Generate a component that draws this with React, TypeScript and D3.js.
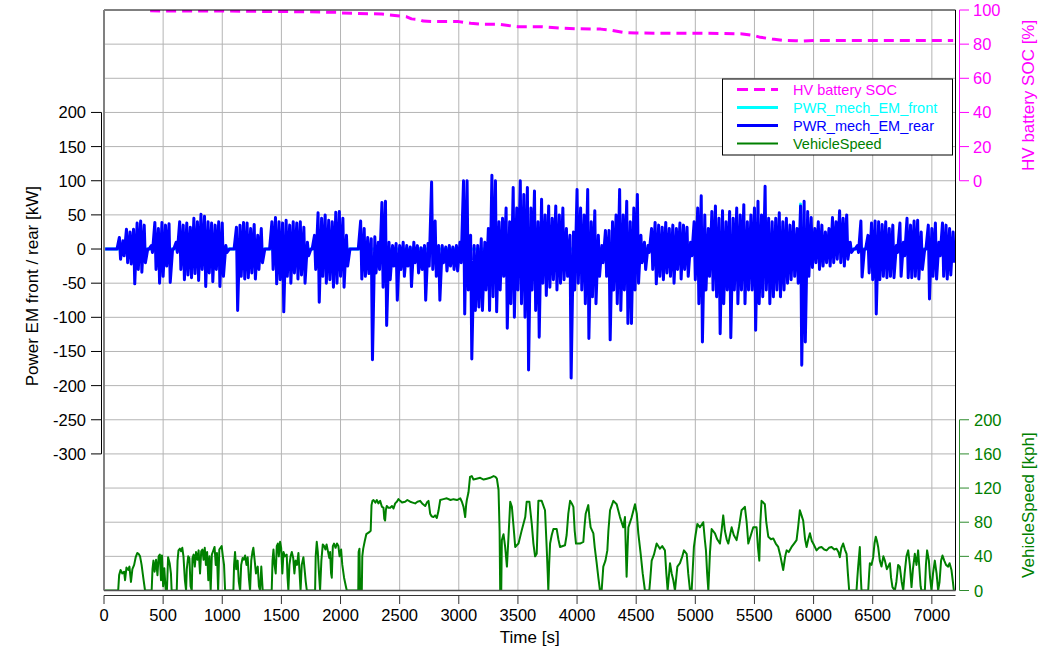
import React from 'react';
import * as d3 from 'd3';

const xTicks = [0, 500, 1000, 1500, 2000, 2500, 3000, 3500, 4000, 4500, 5000, 5500, 6000, 6500, 7000];
const powerTicks = [200, 150, 100, 50, 0, -50, -100, -150, -200, -250, -300];
const socTicks = [0, 20, 40, 60, 80, 100];
const speedTicks = [0, 40, 80, 120, 160, 200];

// HV battery SOC [%] : [time s, SOC]
const socPts: [number, number][] = [
  [390, 99.5], [1000, 99.4], [1300, 99.2], [1700, 99], [1980, 98.6], [2000, 98.2], [2150, 98], [2350, 97.6],
  [2500, 96.5], [2560, 96], [2600, 94.8], [2660, 94.5], [2700, 93.5], [2800, 93.2], [3000, 93.2], [3100, 92.2],
  [3200, 91.6], [3350, 91.6], [3450, 90.6], [3500, 90.2], [3700, 90.2], [3850, 89.5], [4000, 89], [4200, 88.8],
  [4300, 88], [4400, 86.8], [4500, 86.5], [4800, 86.4], [5200, 86.3], [5400, 86], [5500, 85], [5550, 84],
  [5650, 83], [5750, 82.2], [5850, 82], [5900, 81.8], [6000, 82.2], [7180, 82.2],
];

// PWR_mech_EM_rear [kW] : [bin start s, max, min] per 30 s
const rearBins: [number, number, number][] = [
  [0, 0, 0], [30, 0, 0], [60, 0, 0], [90, 0, 0], [120, 17, -15], [150, 12, -10], [180, 29, -20], [210, 25, -22],
  [240, 29, -51], [270, 38, -30], [300, 41, -34], [330, 35, -20], [360, 0, 0], [390, 5, -5], [420, 39, -30], [450, 30, -50],
  [480, 39, -40], [510, 35, -25], [540, 37, -49], [570, 0, 0], [600, 10, -5], [630, 40, -30], [660, 35, -45], [690, 38, -38],
  [720, 32, -42], [750, 45, -36], [780, 40, -46], [810, 51, -30], [840, 48, -55], [870, 40, -35], [900, 38, -48], [930, 35, -30],
  [960, 40, -55], [990, 38, -40], [1020, 5, -5], [1050, 0, 0], [1080, 0, 0], [1110, 32, -90], [1140, 35, -40], [1170, 39, -44],
  [1200, 38, -42], [1230, 30, -35], [1260, 36, -44], [1290, 20, -30], [1320, 30, -20], [1350, 0, 0], [1380, 0, 0], [1410, 40, -30],
  [1440, 46, -51], [1470, 40, -45], [1500, 38, -92], [1530, 42, -40], [1560, 35, -50], [1590, 40, -35], [1620, 38, -44], [1650, 40, -38],
  [1680, 32, -50], [1710, 10, -10], [1740, 0, 0], [1770, 20, -30], [1800, 53, -78], [1830, 45, -40], [1860, 50, -50], [1890, 42, -45],
  [1920, 40, -56], [1950, 54, -50], [1980, 55, -40], [2010, 45, -56], [2040, 20, -25], [2070, 0, 0], [2100, 0, 0], [2130, 0, 0],
  [2160, 41, -44], [2190, 30, -40], [2220, 17, -36], [2250, 15, -162], [2280, 18, -35], [2310, 10, -30], [2340, 68, -56], [2370, 70, -112],
  [2400, 10, -45], [2430, 5, -25], [2460, 8, -75], [2490, 5, -30], [2520, 10, -40], [2550, 5, -25], [2580, 3, -55], [2610, 10, -20],
  [2640, 5, -35], [2670, 2, -30], [2700, 5, -75], [2730, 8, -25], [2760, 98, -30], [2790, 41, -40], [2820, 5, -75], [2850, 5, -20],
  [2880, 3, -32], [2910, 5, -25], [2940, 3, -30], [2970, 5, -32], [3000, 10, -20], [3030, 100, -95], [3060, 100, -60], [3090, 20, -161],
  [3120, 5, -90], [3150, 5, -85], [3180, 15, -90], [3210, 10, -60], [3240, 30, -90], [3270, 108, -70], [3300, 100, -92], [3330, 40, -60],
  [3360, 45, -40], [3390, 60, -116], [3420, 40, -80], [3450, 90, -100], [3480, 60, -60], [3510, 100, -80], [3540, 80, -100], [3570, 90, -177],
  [3600, 60, -60], [3630, 85, -90], [3660, 40, -129], [3690, 73, -50], [3720, 50, -68], [3750, 63, -56], [3780, 45, -45], [3810, 63, -60],
  [3840, 50, -50], [3870, 60, -45], [3900, 30, -40], [3930, 20, -189], [3960, 25, -60], [3990, 87, -50], [4020, 60, -60], [4050, 50, -80],
  [4080, 87, -131], [4110, 40, -70], [4140, 56, -80], [4170, 20, -40], [4200, 5, -20], [4230, 27, -40], [4260, 27, -133], [4290, 40, -60],
  [4320, 50, -80], [4350, 87, -90], [4380, 50, -60], [4410, 70, -109], [4440, 40, -109], [4470, 60, -60], [4500, 80, -50], [4530, 20, -20],
  [4560, 10, -30], [4590, 5, -5], [4620, 30, -30], [4650, 39, -51], [4680, 35, -40], [4710, 32, -45], [4740, 39, -35], [4770, 30, -40],
  [4800, 35, -50], [4830, 30, -30], [4860, 38, -44], [4890, 35, -30], [4920, 32, -40], [4950, 10, -10], [4980, 40, -45], [5010, 60, -80],
  [5040, 78, -136], [5070, 50, -60], [5100, 30, -40], [5130, 55, -60], [5160, 63, -70], [5190, 45, -124], [5220, 56, -80], [5250, 40, -60],
  [5280, 55, -130], [5310, 45, -60], [5340, 60, -80], [5370, 50, -60], [5400, 65, -80], [5430, 40, -60], [5460, 50, -60], [5490, 60, -119],
  [5520, 70, -80], [5550, 50, -70], [5580, 92, -60], [5610, 45, -80], [5640, 40, -70], [5670, 45, -60], [5700, 53, -70], [5730, 40, -60],
  [5760, 45, -50], [5790, 35, -45], [5820, 40, -40], [5850, 30, -50], [5880, 63, -170], [5910, 70, -136], [5940, 55, -40], [5970, 46, -27],
  [6000, 30, -20], [6030, 40, -30], [6060, 35, -25], [6090, 25, -20], [6120, 30, -25], [6150, 46, -20], [6180, 40, -15], [6210, 56, -20],
  [6240, 45, -25], [6270, 50, -15], [6300, 10, -5], [6330, 0, 0], [6360, 5, -5], [6390, 41, -41], [6420, 0, 0], [6450, 20, -35],
  [6480, 38, -45], [6510, 41, -95], [6540, 40, -45], [6570, 36, -40], [6600, 40, -42], [6630, 30, -40], [6660, 35, -42], [6690, 5, -5],
  [6720, 38, -40], [6750, 10, -10], [6780, 45, -42], [6810, 35, -42], [6840, 41, -40], [6870, 42, -44], [6900, 25, -30], [6930, 0, 0],
  [6960, 35, -73], [6990, 30, -40], [7020, 38, -44], [7050, 10, -10], [7080, 38, -40], [7110, 35, -44], [7140, 30, -38], [7170, 25, -20],
];

// PWR_mech_EM_front [kW] : [time s, power]
const frontPts: [number, number][] = [
  [0, 0], [3168, 0], [3172, -32], [3180, -30], [3184, 0], [5886, 0], [5890, 66], [5896, 0], [7186, 0],
];

// VehicleSpeed [kph] : [time s, speed]
const speedPts: [number, number][] = [
  [0, 0], [120, 0], [128, 18], [140, 24], [155, 20], [170, 22], [178, 12], [190, 27], [205, 24], [215, 28], [228, 10], [240, 25], [255, 30], [268, 39], [282, 44], [292, 43], [305, 40], [318, 30], [332, 15], [347, 0],
  [403, 0], [410, 25], [418, 35], [428, 22], [440, 36], [452, 18], [462, 40], [472, 42], [482, 12], [490, 41], [500, 5], [510, 26], [522, 0], [532, 0], [542, 39], [555, 32], [566, 20], [572, 0],
  [615, 0], [622, 35], [630, 47], [642, 49], [652, 46], [662, 50], [672, 40], [684, 12], [694, 0], [700, 25], [712, 40], [722, 38], [732, 5], [742, 0], [748, 38], [758, 42], [768, 28], [778, 45], [790, 36], [800, 47], [812, 20], [822, 46], [832, 48], [842, 36], [852, 50], [862, 30], [872, 45], [882, 12], [892, 40], [902, 0], [912, 42], [922, 46], [935, 51], [945, 30], [955, 44], [965, 0], [975, 48], [985, 50], [995, 52], [1005, 40], [1015, 30], [1024, 0],
  [1094, 0], [1100, 30], [1108, 45], [1118, 25], [1130, 35], [1140, 10], [1151, 0], [1160, 30], [1172, 38], [1182, 36], [1193, 41], [1205, 30], [1215, 39], [1225, 15], [1235, 0], [1245, 35], [1255, 45], [1263, 50], [1272, 38], [1285, 20], [1300, 28], [1310, 5], [1320, 0], [1330, 28], [1342, 0],
  [1418, 0], [1425, 35], [1433, 48], [1442, 30], [1452, 20], [1461, 52], [1470, 55], [1478, 40], [1489, 57], [1498, 50], [1508, 20], [1518, 45], [1530, 40], [1545, 42], [1552, 15], [1559, 0], [1568, 30], [1578, 40], [1588, 45], [1600, 38], [1610, 20], [1620, 35], [1632, 30], [1644, 44], [1652, 25], [1662, 0], [1672, 30], [1686, 39], [1696, 25], [1706, 10], [1715, 0],
  [1785, 0], [1790, 40], [1799, 57], [1808, 45], [1818, 20], [1827, 0], [1838, 35], [1850, 54], [1862, 52], [1872, 48], [1882, 54], [1895, 45], [1905, 38], [1912, 45], [1920, 20], [1926, 15], [1935, 52], [1945, 55], [1958, 50], [1970, 55], [1982, 52], [1992, 40], [2005, 48], [2015, 30], [2030, 15], [2045, 5], [2053, 0],
  [2150, 0], [2153, 45], [2160, 49], [2166, 0], [2180, 0], [2184, 40], [2192, 49], [2205, 58], [2218, 66], [2240, 68], [2255, 70], [2262, 100], [2270, 105], [2279, 106], [2295, 103], [2307, 106], [2320, 102], [2335, 105], [2350, 98], [2363, 97], [2370, 84], [2377, 82], [2384, 95], [2391, 99], [2405, 97], [2420, 97], [2435, 99], [2448, 96], [2462, 102], [2476, 104], [2490, 107], [2504, 105], [2520, 103], [2546, 104], [2565, 106], [2589, 104], [2610, 103], [2631, 102], [2650, 104], [2673, 105], [2690, 102], [2716, 99], [2730, 103], [2744, 105], [2758, 90], [2770, 87], [2786, 86], [2800, 88], [2814, 85], [2828, 93], [2843, 106], [2870, 107], [2899, 108], [2930, 106], [2955, 107], [2985, 106], [3012, 108], [3026, 104], [3040, 98], [3054, 86], [3062, 100], [3068, 106], [3082, 115], [3095, 133], [3110, 134], [3124, 130], [3150, 131], [3181, 132], [3210, 130], [3237, 131], [3265, 132], [3294, 134], [3310, 133], [3322, 131], [3336, 118], [3345, 70], [3350, 0], [3359, 0],
  [3364, 59], [3378, 66], [3392, 51], [3407, 28], [3421, 65], [3435, 104], [3449, 98], [3463, 75], [3477, 51], [3490, 53], [3505, 55], [3533, 71], [3562, 86], [3574, 104], [3597, 104], [3617, 78], [3631, 55], [3645, 40], [3659, 43], [3673, 105], [3701, 105], [3729, 94], [3743, 51], [3752, 20], [3757, 0], [3764, 30], [3772, 55], [3786, 65], [3800, 72], [3828, 72], [3842, 60], [3856, 51], [3898, 53], [3912, 65], [3926, 90], [3941, 105], [3955, 102], [3969, 98], [3980, 70], [3991, 55], [4025, 55], [4053, 57], [4063, 75], [4073, 90], [4095, 100], [4105, 85], [4115, 74], [4138, 67], [4150, 50], [4166, 32], [4180, 15], [4194, 0], [4208, 0],
  [4222, 28], [4240, 35], [4256, 47], [4265, 70], [4279, 94], [4307, 105], [4335, 101], [4363, 86], [4391, 74], [4405, 86], [4412, 50], [4419, 16], [4426, 45], [4434, 74], [4460, 85], [4490, 101], [4505, 90], [4518, 67], [4538, 43], [4555, 20], [4574, 0], [4611, 0],
  [4620, 15], [4631, 35], [4650, 42], [4673, 55], [4701, 49], [4720, 52], [4743, 47], [4755, 20], [4766, 0], [4786, 32], [4800, 20], [4814, 12], [4828, 0], [4848, 28], [4870, 32], [4890, 40], [4904, 47], [4927, 43], [4940, 20], [4955, 0], [4969, 0],
  [4988, 51], [5002, 65], [5017, 78], [5039, 74], [5067, 80], [5080, 60], [5090, 47], [5100, 20], [5110, 0], [5124, 45], [5138, 72], [5166, 67], [5185, 60], [5208, 55], [5222, 70], [5236, 88], [5250, 70], [5265, 60], [5279, 55], [5307, 74], [5325, 65], [5349, 59], [5370, 75], [5391, 94], [5419, 98], [5434, 80], [5448, 55], [5470, 65], [5490, 74], [5518, 74], [5530, 50], [5541, 35], [5550, 80], [5560, 105], [5575, 103], [5588, 101], [5600, 80], [5617, 63], [5640, 60], [5659, 61], [5680, 55], [5701, 51], [5720, 40], [5743, 24], [5760, 40], [5772, 47], [5790, 45], [5814, 51], [5835, 55], [5856, 59], [5870, 75], [5884, 94], [5898, 88], [5912, 82], [5928, 60], [5941, 51], [5955, 60], [5969, 67], [5985, 58], [5997, 55], [6025, 47], [6045, 50], [6067, 51], [6090, 48], [6110, 47], [6130, 50], [6152, 51], [6175, 48], [6194, 49], [6210, 45], [6222, 39], [6235, 50], [6250, 55], [6265, 48], [6279, 43], [6290, 20], [6301, 0], [6363, 0],
  [6370, 15], [6377, 28], [6391, 51], [6398, 20], [6405, 0], [6462, 0], [6470, 20], [6476, 32], [6490, 30], [6504, 39], [6515, 55], [6526, 63], [6536, 58], [6546, 51], [6560, 35], [6574, 28], [6590, 40], [6603, 35], [6620, 25], [6645, 32], [6655, 15], [6667, 4], [6687, 0], [6700, 10], [6715, 30], [6729, 28], [6745, 10], [6758, 0], [6770, 20], [6785, 40], [6800, 47], [6814, 30], [6828, 4], [6840, 25], [6856, 43], [6870, 30], [6884, 47], [6895, 25], [6905, 5], [6912, 0], [6941, 0], [6950, 30], [6960, 47], [6975, 35], [6985, 15], [6997, 0], [7010, 20], [7025, 35], [7040, 20], [7053, 0], [7065, 10], [7078, 35], [7090, 41], [7105, 35], [7120, 30], [7138, 28], [7150, 32], [7166, 24], [7178, 10], [7186, 0],
];

const legendItems = [
  { label: 'HV battery SOC', color: '#ff00ff', width: 3, dash: '11,6' },
  { label: 'PWR_mech_EM_front', color: '#00ffff', width: 3, dash: '' },
  { label: 'PWR_mech_EM_rear', color: '#0000ff', width: 3, dash: '' },
  { label: 'VehicleSpeed', color: '#008000', width: 2, dash: '' },
];

const FONT = '"Liberation Sans", Arial, Helvetica, sans-serif';

export default function App() {
  const L = 104, R = 955.5, T = 10, B = 590.5;
  const x = d3.scaleLinear().domain([0, 7200]).range([L, R]);
  const yP = d3.scaleLinear().domain([-500, 350]).range([B, T]);
  const ySoc = d3.scaleLinear().domain([-240, 100]).range([B, T]);
  const ySpd = d3.scaleLinear().domain([0, 680]).range([B, T]);

  const rearPts: [number, number][] = rearBins.flatMap(([t, mx, mn]) => [[t + 10, mx], [t + 20, mn]] as [number, number][]);
  const lineP = d3.line<[number, number]>().x((d) => x(d[0])).y((d) => yP(d[1]));
  const lineSoc = d3.line<[number, number]>().x((d) => x(d[0])).y((d) => ySoc(d[1]));
  const lineSpd = d3.line<[number, number]>().x((d) => x(d[0])).y((d) => ySpd(d[1]));

  const gridH = d3.range(-450, 350, 50);
  const gridV = xTicks.filter((t) => t > 0);

  const axR = 959.5;
  const legX = 722.5, legY = 79, legW = 230, legH = 76;

  return (
    <svg width={1040} height={649} style={{ position: 'absolute', left: 0, top: 0, background: '#fff' }} fontFamily={FONT}>
      <defs>
        <clipPath id="plotclip">
          <rect x={L} y={T} width={R - L} height={B - T} />
        </clipPath>
      </defs>
      <rect x={0} y={0} width={1040} height={649} fill="#fff" />
      {/* grid */}
      <g stroke="#b4b4b4" strokeWidth={1}>
        {gridH.map((v) => (
          <line key={'h' + v} x1={L} x2={R} y1={yP(v)} y2={yP(v)} />
        ))}
        {gridV.map((t) => (
          <line key={'v' + t} x1={x(t)} x2={x(t)} y1={T} y2={B} />
        ))}
      </g>
      {/* data */}
      <g clipPath="url(#plotclip)" fill="none" strokeLinejoin="round">
        <path d={lineSpd(speedPts) || ''} stroke="#008000" strokeWidth={2} />
        <path d={lineP(frontPts) || ''} stroke="#00ffff" strokeWidth={3} />
        <path d={lineP(rearPts) || ''} stroke="#0000ff" strokeWidth={3} />
        <path d={lineSoc(socPts) || ''} stroke="#ff00ff" strokeWidth={3} strokeDasharray="10,6" />
      </g>
      {/* plot border */}
      <line x1={L} x2={R} y1={T} y2={T} stroke="#000" strokeWidth={1} />
      <line x1={R} x2={R} y1={T} y2={B} stroke="#000" strokeWidth={1} />
      <line x1={L} x2={L} y1={T} y2={B} stroke="#808080" strokeWidth={2} />
      <line x1={L} x2={R} y1={B} y2={B} stroke="#505050" strokeWidth={1.5} />

      {/* left power axis */}
      <g>
        <line x1={101.5} x2={101.5} y1={yP(200)} y2={yP(-300)} stroke="#000" strokeWidth={1} />
        {powerTicks.map((v) => (
          <g key={'p' + v}>
            <line x1={91} x2={101.5} y1={yP(v)} y2={yP(v)} stroke="#000" strokeWidth={1} />
            <text x={86} y={yP(v) + 6} textAnchor="end" fontSize={16.5} fill="#000">{v}</text>
          </g>
        ))}
        <text transform={`translate(38,${(yP(200) + yP(-300)) / 2 + 3}) rotate(-90)`} textAnchor="middle" fontSize={17} fill="#000">
          Power EM front / rear [kW]
        </text>
      </g>

      {/* right SOC axis */}
      <g>
        <line x1={axR} x2={axR} y1={ySoc(0)} y2={ySoc(100)} stroke="#ff00ff" strokeWidth={1} />
        {socTicks.map((v) => (
          <g key={'s' + v}>
            <line x1={axR} x2={969} y1={ySoc(v)} y2={ySoc(v)} stroke="#ff00ff" strokeWidth={1} />
            <text x={973} y={ySoc(v) + 6} textAnchor="start" fontSize={16.5} fill="#ff00ff">{v}</text>
          </g>
        ))}
        <text transform={`translate(1034,${(ySoc(0) + ySoc(100)) / 2}) rotate(-90)`} textAnchor="middle" fontSize={17} fill="#ff00ff">
          HV battery SOC [%]
        </text>
      </g>

      {/* right speed axis */}
      <g>
        <line x1={axR} x2={axR} y1={ySpd(0)} y2={ySpd(200)} stroke="#2e8b2e" strokeWidth={1} />
        {speedTicks.map((v) => (
          <g key={'v' + v}>
            <line x1={axR} x2={969} y1={ySpd(v)} y2={ySpd(v)} stroke="#2e8b2e" strokeWidth={1} />
            <text x={974} y={ySpd(v) + 6} textAnchor="start" fontSize={16.5} fill="#008000">{v}</text>
          </g>
        ))}
        <text transform={`translate(1034,${(ySpd(0) + ySpd(200)) / 2}) rotate(-90)`} textAnchor="middle" fontSize={17} fill="#008000">
          VehicleSpeed [kph]
        </text>
      </g>

      {/* bottom time axis */}
      <g>
        <line x1={L} x2={R} y1={595.5} y2={595.5} stroke="#333" strokeWidth={1} />
        {xTicks.map((t) => (
          <g key={'x' + t}>
            <line x1={x(t)} x2={x(t)} y1={595.5} y2={604} stroke="#333" strokeWidth={1} />
            <text x={x(t)} y={621} textAnchor="middle" fontSize={16.5} fill="#000">{t}</text>
          </g>
        ))}
        <text x={(L + R) / 2} y={643} textAnchor="middle" fontSize={17} fill="#000">Time [s]</text>
      </g>

      {/* legend */}
      <g>
        <rect x={legX} y={legY} width={legW} height={legH} fill="#fff" stroke="#000" strokeWidth={1} />
        {legendItems.map((it, i) => {
          const yy = 89.5 + i * 18;
          return (
            <g key={it.label}>
              <line x1={737} x2={778} y1={yy} y2={yy} stroke={it.color} strokeWidth={it.width} strokeDasharray={it.dash || undefined} />
              <text x={793} y={yy + 5} fontSize={14.5} fill={it.color}>{it.label}</text>
            </g>
          );
        })}
      </g>
    </svg>
  );
}
